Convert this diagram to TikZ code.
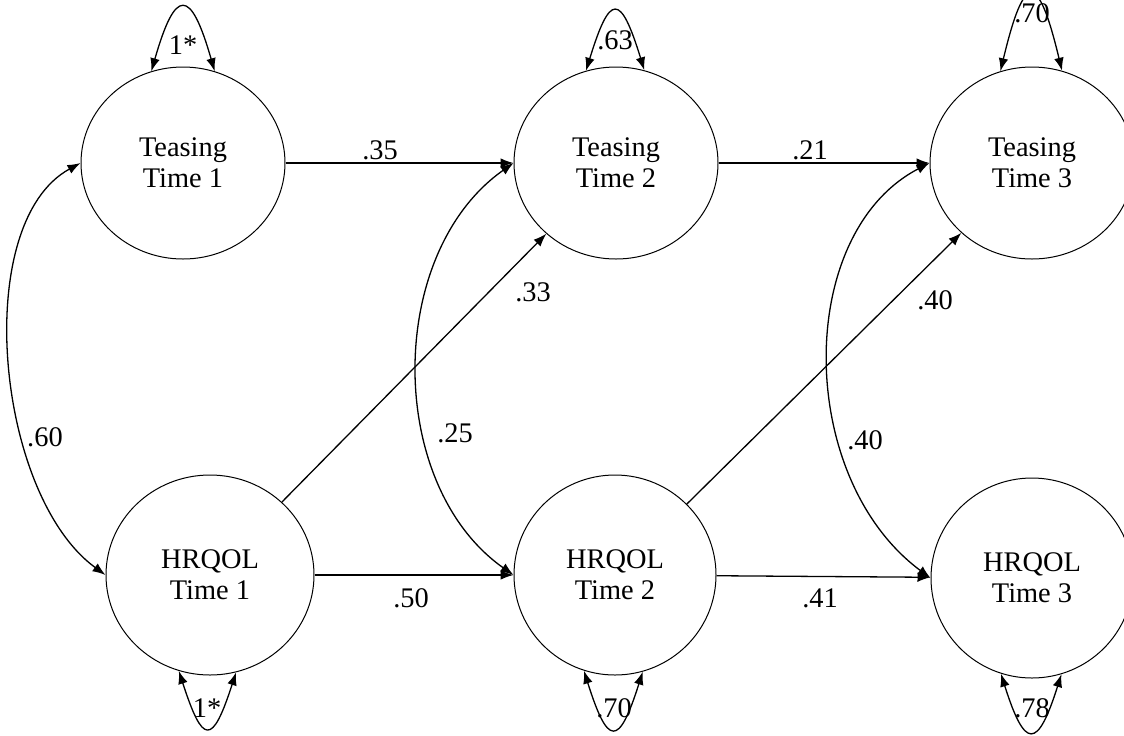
\documentclass[tikz,border=0pt]{standalone}
\usepackage{fontspec}
\setmainfont{Liberation Serif}
\usetikzlibrary{shapes.geometric,arrows.meta,positioning}

\tikzset{
    latent/.style={ellipse,draw,line width=0.5pt,inner sep=0pt,minimum width=102pt,minimum height=96pt,align=center,font=\fontsize{14.2}{15.5}\selectfont},
    outcome/.style={latent,minimum width=101pt,minimum height=100pt},
    effect/.style={line width=0.65pt,-{Latex[length=6.5pt,width=4.8pt]}},
    covar/.style={line width=0.65pt,{Latex[length=6.5pt,width=4.8pt]}-{Latex[length=6.5pt,width=4.8pt]}},
    coef/.style={font=\fontsize{14.2}{15.5}\selectfont,inner sep=1pt}
}

\begin{document}
\begin{tikzpicture}[x=0.5pt,y=-0.5pt]
    \clip (0,0) rectangle (1124,735);

    % Latent variables
    \node[latent] (T1) at (183,163) {Teasing\\Time 1};
    \node[latent] (T2) at (616,163) {Teasing\\Time 2};
    \node[latent] (T3) at (1032,163) {Teasing\\Time 3};
    \node[outcome,minimum width=104pt] (H1) at (210,575) {HRQOL\\Time 1};
    \node[outcome] (H2) at (615,575) {HRQOL\\Time 2};
    \node[outcome] (H3) at (1032,578) {HRQOL\\Time 3};

    % Cross-lagged paths
    \draw[effect] (T1) -- (T2);
    \draw[effect] (T2) -- (T3);
    \draw[effect] (H1) -- (H2);
    \draw[effect] (H2) -- (H3);
    \draw[effect] (H1) -- (T2);
    \draw[effect] (H2) -- (T3);

    % Covariances
    \draw[covar] (T1.west) .. controls +(-110,60) and +(-110,-80) .. (H1.west);
    \draw[covar] (T2.west) .. controls +(-128,90) and +(-128,-90) .. (H2.west);
    \draw[covar] (T3.west) .. controls +(-135,70) and +(-135,-100) .. (H3.west);

    % Variances
    \draw[covar] (T1.109) .. controls +(24,-84) and +(-24,-84) .. (T1.71);
    \draw[covar] (T2.108) .. controls +(24,-78) and +(-24,-78) .. (T2.73);
    \draw[covar] (T3.109) .. controls +(24,-100) and +(-24,-100) .. (T3.72);
    \draw[covar] (H1.252) .. controls +(24,74) and +(-24,74) .. (H1.285);
    \draw[covar] (H2.252) .. controls +(24,76) and +(-24,76) .. (H2.286);
    \draw[covar] (H3.252) .. controls +(24,76) and +(-24,76) .. (H3.287);

    % Coefficients
    \node[coef] (c35) at (380,150) {.35};
    \node[coef] (c21) at (810,150) {.21};
    \node[coef] (c50) at (411,598) {.50};
    \node[coef] (c41) at (820,598) {.41};
    \node[coef] (c33) at (533,292) {.33};
    \node[coef] (c40a) at (935,300) {.40};
    \node[coef] (c60) at (45,437) {.60};
    \node[coef] (c25) at (455,433) {.25};
    \node[coef] (c40b) at (865,440) {.40};
    \node[coef] (vT1) at (183,45) {1*};
    \node[coef] (vT2) at (615,40) {.63};
    \node[coef] (vT3) at (1032,13) {.70};
    \node[coef] (vH1) at (207,708) {1*};
    \node[coef] (vH2) at (614,708) {.70};
    \node[coef] (vH3) at (1032,708) {.78};
\end{tikzpicture}
\end{document}
